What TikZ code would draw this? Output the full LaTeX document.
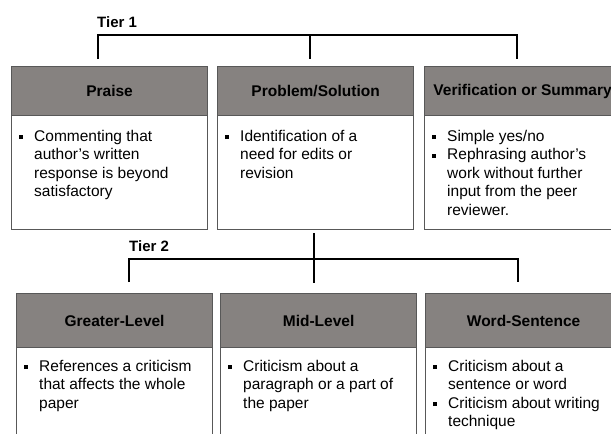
\documentclass[tikz,border=0pt]{standalone}
\usepackage{fontspec}
\setmainfont{Liberation Sans}
\usetikzlibrary{calc}
\definecolor{hdrgray}{RGB}{134,130,128}
\definecolor{edgegray}{RGB}{88,88,88}
% bullet marker and continuation indent for the list lines
\newcommand{\bul}{\makebox[15.5pt][l]{\raisebox{2.3pt}{\rule{4pt}{4pt}}}}
\newcommand{\cont}{\hspace*{15.5pt}}
\begin{document}
\begin{tikzpicture}[x=1pt,y=-1pt,
  outerbox/.style={draw=edgegray, line width=1.2pt, fill=white, minimum width=196pt,
    minimum height=#1, anchor=north west, inner sep=0pt},
  hdr/.style={draw=edgegray, line width=1.2pt, fill=hdrgray, minimum width=196pt,
    minimum height=#1, anchor=north west, inner sep=0pt,
    font=\fontsize{15.5}{18}\selectfont\bfseries},
  bodytxt/.style={anchor=north west, inner sep=0pt, align=left,
    font=\fontsize{15.5}{18.5}\selectfont},
  tier/.style={anchor=west, inner sep=0pt, font=\fontsize{15}{18}\selectfont\bfseries},
  conn/.style={line width=2.4pt, black}]
\useasboundingbox (0,0) rectangle (611,434);
\clip (0,0) rectangle (611,434);

% ---- Tier 1 boxes ----
\node[outerbox=163pt] (box1) at (11,66) {};
\node[hdr=49pt] (hd1) at (11,66) {Praise};
\node[bodytxt] (tx1) at (18.5,130) {\bul Commenting that\\\cont author's written\\\cont response is beyond\\\cont satisfactory};

\node[outerbox=163pt] (box2) at (217,66) {};
\node[hdr=49pt] (hd2) at (217,66) {Problem/Solution};
\node[bodytxt] (tx2) at (224.5,130) {\bul Identification of a\\\cont need for edits or\\\cont revision};

\node[outerbox=163pt] (box3) at (424,66) {};
\node[hdr=49pt] (hd3) at (424,66) {Verification or Summary};
\node[bodytxt] (tx3) at (431.5,130) {\bul Simple yes/no\\\bul Rephrasing author's\\\cont work without further\\\cont input from the peer\\\cont reviewer.};

% ---- Tier 2 boxes ----
\node[outerbox=160pt] (box4) at (16,293) {};
\node[hdr=54pt] (hd4) at (16,293) {Greater-Level};
\node[bodytxt] (tx4) at (23.5,360) {\bul References a criticism\\\cont that affects the whole\\\cont paper};

\node[outerbox=160pt] (box5) at (220,293) {};
\node[hdr=54pt] (hd5) at (220,293) {Mid-Level};
\node[bodytxt] (tx5) at (227.5,360) {\bul Criticism about a\\\cont paragraph or a part of\\\cont the paper};

\node[outerbox=160pt] (box6) at (425,293) {};
\node[hdr=54pt] (hd6) at (425,293) {Word-Sentence};
\node[bodytxt] (tx6) at (432.5,360) {\bul Criticism about a\\\cont sentence or word\\\bul Criticism about writing\\\cont technique};

% ---- Tier labels ----
\node[tier] (lab1) at (97,22) {Tier 1};
\node[tier] (lab2) at (129,246) {Tier 2};

% ---- Tier 1 bracket ----
\coordinate (a1) at (98,59);
\coordinate (a2) at (310,59);
\coordinate (a3) at (517,59);
\coordinate (am) at (310,35);
\coordinate (ar) at (517,35);
\draw[conn] (a1) |- (ar) -- (a3);
\draw[conn] (am) -- (a2);

% ---- Tier 2 bracket ----
\coordinate (s0) at (314,233);
\coordinate (s2) at (314,283);
\coordinate (b1) at (129,282);
\coordinate (b3) at (518,282);
\coordinate (br) at (518,259);
\draw[conn] (s0) -- (s2);
\draw[conn] (b1) |- (br) -- (b3);
\end{tikzpicture}
\end{document}
